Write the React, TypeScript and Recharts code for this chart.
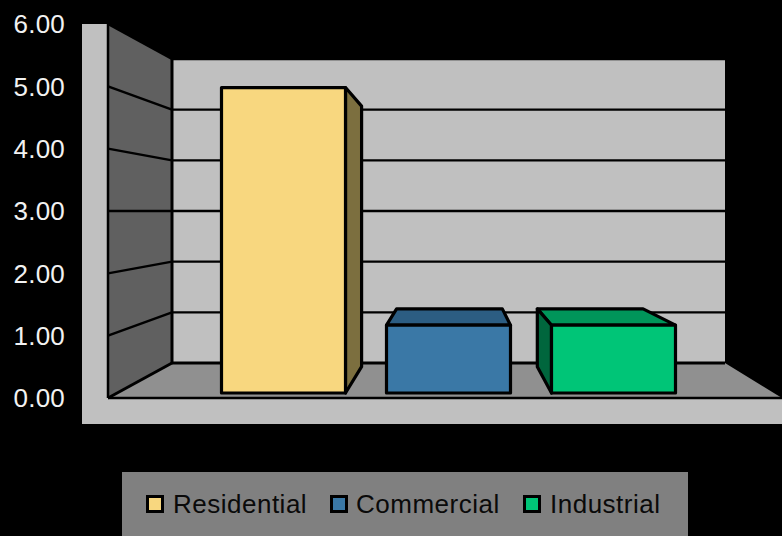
import { BarChart, Bar, Cell, XAxis, YAxis, CartesianGrid, Legend } from 'recharts';

const categories = ['Residential', 'Commercial', 'Industrial'];
const values = [5, 1.11, 1.11];
const yTicks = [0, 1, 2, 3, 4, 5, 6];
const frontColors = ['#f8d77f', '#3a78a6', '#00c577'];
const topColors = ['#bca15f', '#2c5d82', '#00955a'];
const sideColors = ['#7c6f3f', '#1d3c53', '#00663d'];

const data = categories.map((name, i) => ({ name, value: values[i] }));

const WIDTH = 782;
const HEIGHT = 536;
const FONT = '"Liberation Sans", Arial, sans-serif';

// room box: front plane is the plot area, back plane is the far wall
const FRONT = { left: 108, right: 782, top: 24, bottom: 398 };
const BACK = { left: 172, right: 725, top: 59, bottom: 363 };
const PANEL = { left: 82, bottom: 424 };

// perspective used for the bar boxes
const VP = { x: 455, y: 214 };
const BAR_BOTTOM_SHIFT = 5;
const BAR_HEIGHT_SCALE = 0.98;
const BAR_DEPTH = 0.853;

// legend entries are laid out on fixed widths
const LEGEND_ITEM_WIDTHS = [184, 193, 140];

const backY = (frontY: number) =>
  BACK.bottom - ((FRONT.bottom - frontY) * (BACK.bottom - BACK.top)) / (FRONT.bottom - FRONT.top);

const pts = (list: number[][]) => list.map((p) => p.join(',')).join(' ');

// walls and floor sit in their own svg under the transparent chart
function Room() {
  return (
    <svg width={WIDTH} height={HEIGHT} style={{ position: 'absolute', left: 0, top: 0 }}>
      <polygon
        points={pts([
          [PANEL.left, FRONT.top],
          [FRONT.left, FRONT.top],
          [FRONT.left, FRONT.bottom],
          [WIDTH, FRONT.bottom],
          [WIDTH, PANEL.bottom],
          [PANEL.left, PANEL.bottom],
        ])}
        fill="#c0c0c0"
      />
      <rect x={BACK.left} y={BACK.top} width={BACK.right - BACK.left} height={BACK.bottom - BACK.top} fill="#c0c0c0" />
      <polygon
        points={pts([
          [FRONT.left, FRONT.top],
          [BACK.left, BACK.top],
          [BACK.left, BACK.bottom],
          [FRONT.left, FRONT.bottom],
        ])}
        fill="#606060"
      />
      <polygon
        points={pts([
          [FRONT.left, FRONT.bottom],
          [BACK.left, BACK.bottom],
          [BACK.right, BACK.bottom],
          [FRONT.right, FRONT.bottom],
        ])}
        fill="#909090"
      />
      <g stroke="#000" strokeWidth={2.5} fill="none">
        <line x1={FRONT.left} y1={FRONT.top} x2={FRONT.left} y2={FRONT.bottom} />
        <line x1={FRONT.left} y1={FRONT.bottom} x2={FRONT.right} y2={FRONT.bottom} />
        <line x1={BACK.left} y1={BACK.top} x2={BACK.left} y2={BACK.bottom} strokeWidth={3} />
        <line x1={FRONT.left} y1={FRONT.bottom} x2={BACK.left} y2={BACK.bottom} strokeWidth={3} />
      </g>
    </svg>
  );
}

// one gridline runs along the far wall and then forward on the side wall
function GridLine(props: any) {
  const { y1 } = props;
  const by = backY(y1);
  const isFloor = Math.abs(y1 - FRONT.bottom) < 0.5;
  return (
    <g stroke="#000" strokeWidth={isFloor ? 3 : 2.4}>
      <line x1={BACK.left} y1={by} x2={BACK.right} y2={by} />
      {!isFloor && <line x1={FRONT.left} y1={y1} x2={BACK.left} y2={by} />}
    </g>
  );
}

function BoxBar(props: any) {
  const { x, width, height, index } = props;
  const bottom = FRONT.bottom - BAR_BOTTOM_SHIFT;
  const top = bottom - height * BAR_HEIGHT_SCALE;
  const right = x + width;
  const px = (v: number) => VP.x + (v - VP.x) * BAR_DEPTH;
  const py = (v: number) => VP.y + (v - VP.y) * BAR_DEPTH;
  const edge = { stroke: '#000', strokeWidth: 3.2, strokeLinejoin: 'round' as const };

  return (
    <g {...edge}>
      {top > VP.y && (
        <polygon
          points={pts([[x, top], [px(x), py(top)], [px(right), py(top)], [right, top]])}
          fill={topColors[index]}
        />
      )}
      {right < VP.x && (
        <polygon
          points={pts([[right, top], [px(right), py(top)], [px(right), py(bottom)], [right, bottom]])}
          fill={sideColors[index]}
        />
      )}
      {x > VP.x && (
        <polygon
          points={pts([[x, top], [px(x), py(top)], [px(x), py(bottom)], [x, bottom]])}
          fill={sideColors[index]}
        />
      )}
      <rect x={x} y={top} width={width} height={bottom - top} fill={frontColors[index]} />
    </g>
  );
}

function LegendBox() {
  return (
    <div
      style={{
        width: 566,
        height: 64,
        boxSizing: 'border-box',
        paddingLeft: 24,
        background: '#808080',
        display: 'flex',
        alignItems: 'center',
        fontFamily: FONT,
        fontSize: 26,
        letterSpacing: 0.5,
        color: '#0a0a0a',
      }}
    >
      {categories.map((name, i) => (
        <div key={name} style={{ width: LEGEND_ITEM_WIDTHS[i], display: 'flex', alignItems: 'center', gap: 9 }}>
          <span
            style={{
              width: 18,
              height: 18,
              boxSizing: 'border-box',
              border: '3px solid #000',
              background: frontColors[i],
            }}
          />
          <span style={{ marginLeft: i === 1 ? -1 : 0 }}>{name}</span>
        </div>
      ))}
    </div>
  );
}

export default function App() {
  return (
    <div style={{ position: 'fixed', left: 0, top: 0, width: WIDTH, height: HEIGHT, background: '#000', overflow: 'hidden' }}>
      <Room />
      <BarChart
        width={WIDTH}
        height={HEIGHT}
        data={data}
        barSize={124}
        margin={{ top: FRONT.top, right: 0, bottom: HEIGHT - FRONT.bottom - 64, left: 0 }}
      >
        <CartesianGrid vertical={false} horizontal={(p: any) => <GridLine key={p.key} {...p} />} />
        <XAxis dataKey="name" hide padding={{ left: 92.5, right: 86.5 }} />
        <YAxis
          width={FRONT.left}
          domain={[0, 6]}
          ticks={yTicks}
          interval={0}
          axisLine={false}
          tickLine={false}
          tickMargin={37}
          tickFormatter={(v: number) => v.toFixed(2)}
          tick={{ fill: '#f2f2f2', fontSize: 26, fontFamily: FONT, letterSpacing: 0.2 }}
        />
        <Bar dataKey="value" isAnimationActive={false} shape={BoxBar}>
          {categories.map((name, i) => (
            <Cell key={name} fill={frontColors[i]} />
          ))}
        </Bar>
        <Legend content={LegendBox} wrapperStyle={{ left: 122, bottom: 0, width: 566, height: 64 }} />
      </BarChart>
    </div>
  );
}
